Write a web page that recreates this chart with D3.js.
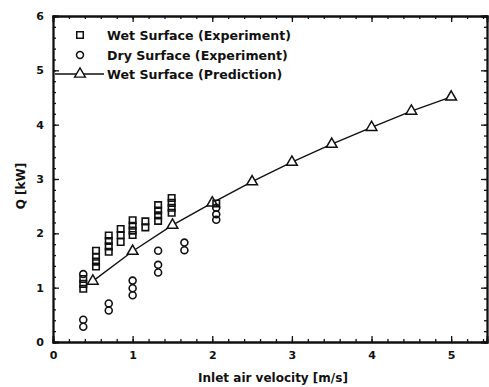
<!DOCTYPE html>
<html>
<head>
<meta charset="utf-8">
<script src="https://cdn.jsdelivr.net/npm/d3@7"></script>
<style>
  body { margin: 0; background: #fff; }
  text { font-family: "DejaVu Sans", "Liberation Sans", Arial, sans-serif; font-weight: bold; fill: #111; }
</style>
</head>
<body>
<svg id="chart" width="489" height="387"></svg>
<script>
// data
const wetExpX = [0.38, 0.38, 0.38, 0.54, 0.54, 0.54, 0.54, 0.70, 0.70, 0.70, 0.70,
  0.85, 0.85, 0.85, 1.0, 1.0, 1.0, 1.0, 1.16, 1.16, 1.32, 1.32, 1.32, 1.32,
  1.49, 1.49, 1.49, 1.49, 2.05];
const wetExpQ = [1.16, 1.07, 0.98, 1.68, 1.57, 1.48, 1.39, 1.96, 1.86, 1.76, 1.66,
  2.08, 1.97, 1.84, 2.24, 2.14, 2.05, 1.97, 2.22, 2.11, 2.52, 2.42, 2.33, 2.23,
  2.65, 2.56, 2.47, 2.38, 2.55];

const dryExpX = [0.38, 0.38, 0.38, 0.70, 0.70, 1.0, 1.0, 1.0, 1.32, 1.32, 1.32,
  1.65, 1.65, 2.05, 2.05, 2.05];
const dryExpQ = [1.25, 0.41, 0.28, 0.71, 0.58, 1.13, 0.99, 0.86, 1.68, 1.42, 1.28,
  1.83, 1.69, 2.47, 2.35, 2.25];

const predX = [0.5, 1.0, 1.5, 2.0, 2.5, 3.0, 3.5, 4.0, 4.5, 5.0];
const predQ = [1.12, 1.67, 2.15, 2.56, 2.95, 3.31, 3.64, 3.95, 4.25, 4.51];

const xTicks = [0, 1, 2, 3, 4, 5];
const yTicks = [0, 1, 2, 3, 4, 5, 6];
const legendLabels = ["Wet Surface (Experiment)", "Dry Surface (Experiment)", "Wet Surface (Prediction)"];

const svg = d3.select("#chart");
const margin = { top: 16, right: 2, bottom: 45, left: 53 };
const width = +svg.attr("width") - margin.left - margin.right;
const height = +svg.attr("height") - margin.top - margin.bottom;

const x = d3.scaleLinear().domain([0, 5.45]).range([margin.left, margin.left + width]);
const y = d3.scaleLinear().domain([0, 6]).range([margin.top + height, margin.top]);

const minorX = d3.range(0, 5.45, 0.2);
const minorY = d3.range(0, 6.01, 0.2);

// axes with inward ticks
const ax = svg.append("g").attr("class", "axes");
ax.append("g").attr("transform", `translate(0,${y(0)})`)
  .call(d3.axisBottom(x).tickValues(minorX).tickSize(-3).tickFormat(""));
ax.append("g").attr("transform", `translate(0,${y(0)})`)
  .call(d3.axisBottom(x).tickValues(xTicks).tickSize(-6).tickPadding(9).tickFormat(d3.format("d")));
ax.append("g").attr("transform", `translate(0,${y(6)})`)
  .call(d3.axisTop(x).tickValues(minorX).tickSize(-3).tickFormat(""));
ax.append("g").attr("transform", `translate(0,${y(6)})`)
  .call(d3.axisTop(x).tickValues(xTicks).tickSize(-6).tickFormat(""));
ax.append("g").attr("transform", `translate(${x(0)},0)`)
  .call(d3.axisLeft(y).tickValues(minorY).tickSize(-3).tickFormat(""));
ax.append("g").attr("transform", `translate(${x(0)},0)`)
  .call(d3.axisLeft(y).tickValues(yTicks).tickSize(-6).tickPadding(9).tickFormat(d3.format("d")));
ax.append("g").attr("transform", `translate(${x(5.45)},0)`)
  .call(d3.axisRight(y).tickValues(minorY).tickSize(-3).tickFormat(""));
ax.append("g").attr("transform", `translate(${x(5.45)},0)`)
  .call(d3.axisRight(y).tickValues(yTicks).tickSize(-6).tickFormat(""));

ax.selectAll(".domain").attr("stroke", "#111").attr("stroke-width", 1.8);
ax.selectAll(".tick line").attr("stroke", "#111").attr("stroke-width", 1.3);
ax.selectAll(".tick text").style("font-size", "11px").attr("fill", "#111");

// prediction line
const line = d3.line().x((d, i) => x(predX[i])).y(d => y(d));
svg.append("path").datum(predQ)
  .attr("d", line).attr("fill", "none").attr("stroke", "#111").attr("stroke-width", 1.4);

const tri = d3.symbol().type(d3.symbolTriangle).size(50);
const circ = d3.symbol().type(d3.symbolCircle).size(38);
const sq = d3.symbol().type(d3.symbolSquare).size(42);

svg.append("g").selectAll("path").data(predQ).join("path")
  .attr("transform", (d, i) => `translate(${x(predX[i])},${y(d)})`)
  .attr("d", tri).attr("fill", "#fff").attr("stroke", "#111").attr("stroke-width", 1.5);

svg.append("g").selectAll("path").data(dryExpQ).join("path")
  .attr("transform", (d, i) => `translate(${x(dryExpX[i])},${y(d)})`)
  .attr("d", circ).attr("fill", "none").attr("stroke", "#111").attr("stroke-width", 1.6);

svg.append("g").selectAll("path").data(wetExpQ).join("path")
  .attr("transform", (d, i) => `translate(${x(wetExpX[i])},${y(d)})`)
  .attr("d", sq).attr("fill", "none").attr("stroke", "#111").attr("stroke-width", 1.6);

// legend
const legend = svg.append("g");
const rowY = [35, 55, 74];
legend.append("path").attr("transform", `translate(80,${rowY[0]})`)
  .attr("d", sq).attr("fill", "none").attr("stroke", "#111").attr("stroke-width", 1.5);
legend.append("path").attr("transform", `translate(80,${rowY[1]})`)
  .attr("d", circ).attr("fill", "none").attr("stroke", "#111").attr("stroke-width", 1.5);
legend.append("line").attr("x1", 55).attr("x2", 104).attr("y1", rowY[2]).attr("y2", rowY[2])
  .attr("stroke", "#111").attr("stroke-width", 1.4);
legend.append("path").attr("transform", `translate(80,${rowY[2]})`)
  .attr("d", tri).attr("fill", "#fff").attr("stroke", "#111").attr("stroke-width", 1.4);
legend.selectAll("text").data(legendLabels).join("text")
  .attr("x", 107).attr("y", (d, i) => rowY[i] + 5)
  .style("font-size", "12.6px").text(d => d);

// axis titles
svg.append("text").attr("x", 273).attr("y", 382)
  .attr("text-anchor", "middle").style("font-size", "12px").text("Inlet air velocity [m/s]");
svg.append("text").attr("transform", "translate(25,186) rotate(-90)")
  .attr("text-anchor", "middle").style("font-size", "12px").text("Q [kW]");
</script>
</body>
</html>
